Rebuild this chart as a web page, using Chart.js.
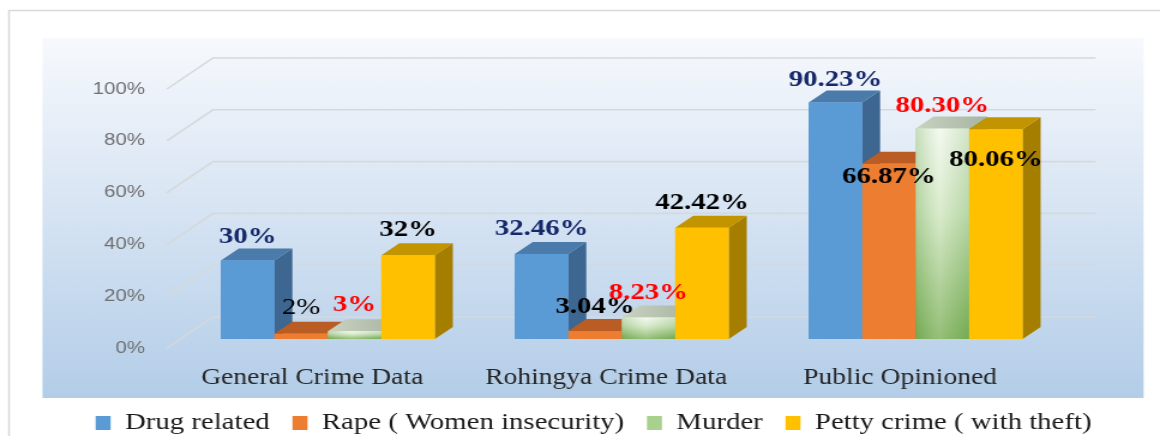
<!DOCTYPE html>
<html>
<head>
<meta charset="utf-8">
<script src="https://cdn.jsdelivr.net/npm/chart.js@4.4.1/dist/chart.umd.min.js"></script>
<style>
html,body{margin:0;padding:0;background:#fff;overflow:hidden;}
#wrap{width:1160px;height:436px;overflow:hidden;position:relative;}
#c{display:block;transform:scaleX(1.19959);transform-origin:0 0;}
</style>
</head>
<body>
<div id="wrap"><canvas id="c" width="967" height="445" style="width:967px;height:445px"></canvas></div>
<script>
// ---------------- data ----------------
const categories = ['General Crime Data', 'Rohingya Crime Data', 'Public Opinioned'];
const seriesNames = ['Drug related', 'Rape ( Women insecurity)', 'Murder', 'Petty crime ( with theft)'];
const drugRelated = [30, 32.46, 90.23];
const rapeWomenInsecurity = [2, 3.04, 66.87];
const murder = [3, 8.23, 80.30];
const pettyCrime = [32, 42.42, 80.06];
const drugLabels = ['30%', '32.46%', '90.23%'];
const rapeLabels = ['2%', '3.04%', '66.87%'];
const murderLabels = ['3%', '8.23%', '80.30%'];
const pettyLabels = ['32%', '42.42%', '80.06%'];
const yTickValues = [0, 20, 40, 60, 80, 100];

const seriesValues = [drugRelated, rapeWomenInsecurity, murder, pettyCrime];
const seriesLabelTexts = [drugLabels, rapeLabels, murderLabels, pettyLabels];

// ---------------- styles ----------------
const CANVAS_H = 445;
const LEG_PAD = 19;
const PAD_LEFT = 22.6;
const AREA_LEFT = 150.8, AREA_RIGHT_GAP = 81.2, AREA_BOTTOM = 348, AREA_TOP = 89;
const DEPTH_X = 15, DEPTH_Y = -12;
const serif = '"Liberation Serif", "Times New Roman", serif';
const faces = [
  { front: '#5B9BD5', top: '#4A7BAA', side: '#3D6690', legend: '#5B9BD5' },
  { front: '#ED7D31', top: '#B95D25', side: '#A4511D', legend: '#ED7D31' },
  { front: null,      top: '#B7C1AE', side: '#79A85A', legend: '#A9D18E' },
  { front: '#FFC000', top: '#C29400', side: '#A57E00', legend: '#FFC000' }
];
const labelColors = ['#16286A', '#000000', '#FF0000', '#000000'];
const labelOffsetY = [[-24, -25, -23], [-26, -24, 13], [-26, -25, -23], [-25, -25, 31]];
const labelWeight = [['bold','bold','bold'], ['normal','bold','bold'], ['bold','bold','bold'], ['bold','bold','bold']];

function greenFront(ctx, x0, x1, yt, yb) {
  const g = ctx.createLinearGradient(0, yt, 0, yb);
  g.addColorStop(0, '#f1f8ec');
  g.addColorStop(0.4, '#cfe6bf');
  g.addColorStop(1, '#78ad53');
  ctx.fillStyle = g;
  ctx.fillRect(x0, yt, x1 - x0, yb - yt);
  const h = ctx.createLinearGradient(x0, 0, x1, 0);
  h.addColorStop(0, 'rgba(100,160,70,0.30)');
  h.addColorStop(0.45, 'rgba(255,255,255,0.22)');
  h.addColorStop(1, 'rgba(100,160,70,0.22)');
  ctx.fillStyle = h;
  ctx.fillRect(x0, yt, x1 - x0, yb - yt);
}

const plot3d = {
  id: 'plot3d',
  beforeDraw(chart) {
    const ctx = chart.ctx;
    ctx.save();
    ctx.fillStyle = '#ffffff';
    ctx.fillRect(0, 0, chart.width, chart.height);
    ctx.strokeStyle = '#d9d9d9';
    ctx.lineWidth = 1.5;
    ctx.strokeRect(7.5, 10.5, chart.width + 20, chart.height + 20);
    const g = ctx.createLinearGradient(0, 38, 0, 398);
    g.addColorStop(0, '#f7f9fd');
    g.addColorStop(1, '#b3cde8');
    ctx.fillStyle = g;
    ctx.fillRect(35.4, 38, 953.3 - 35.4, 360);
    ctx.restore();
  },
  beforeDatasetsDraw(chart) {
    const ctx = chart.ctx, y = chart.scales.y;
    ctx.save();
    ctx.strokeStyle = '#d6d9dc';
    ctx.lineWidth = 1.6;
    yTickValues.forEach(v => {
      const py = y.getPixelForValue(v);
      ctx.beginPath();
      ctx.moveTo(139.2, py);
      ctx.lineTo(177.5, py - 31);
      ctx.lineTo(913.3, py - 31);
      ctx.stroke();
    });
    ctx.restore();
  },
  afterDatasetsDraw(chart) {
    const ctx = chart.ctx;
    ctx.save();
    const metas = seriesValues.map((_, d) => chart.getDatasetMeta(d));
    for (let i = 0; i < categories.length; i++) {
      for (let d = 0; d < seriesValues.length; d++) {
        const el = metas[d].data[i];
        const p = el.getProps(['x', 'y', 'base', 'width'], true);
        const x0 = p.x - p.width / 2, x1 = p.x + p.width / 2, yt = p.y, yb = p.base;
        const f = faces[d];
        // side face
        ctx.fillStyle = f.side;
        ctx.beginPath();
        ctx.moveTo(x1, yt); ctx.lineTo(x1 + DEPTH_X, yt + DEPTH_Y);
        ctx.lineTo(x1 + DEPTH_X, yb + DEPTH_Y); ctx.lineTo(x1, yb);
        ctx.closePath(); ctx.fill();
        // top face
        if (d === 2) {
          const tg = ctx.createLinearGradient(x0, 0, x1 + DEPTH_X, 0);
          tg.addColorStop(0, '#c9d3c0'); tg.addColorStop(1, '#a9b3a2');
          ctx.fillStyle = tg;
        } else ctx.fillStyle = f.top;
        ctx.beginPath();
        ctx.moveTo(x0, yt); ctx.lineTo(x1, yt);
        ctx.lineTo(x1 + DEPTH_X, yt + DEPTH_Y); ctx.lineTo(x0 + DEPTH_X, yt + DEPTH_Y);
        ctx.closePath(); ctx.fill();
        // front face
        if (d === 2) greenFront(ctx, x0, x1, yt, yb);
        else { ctx.fillStyle = f.front; ctx.fillRect(x0, yt, x1 - x0, yb - yt); }
      }
    }
    // value labels
    ctx.textAlign = 'center';
    ctx.textBaseline = 'middle';
    for (let d = 0; d < seriesValues.length; d++) {
      for (let i = 0; i < categories.length; i++) {
        const p = metas[d].data[i].getProps(['x', 'y'], true);
        ctx.font = labelWeight[d][i] + ' 24px ' + serif;
        ctx.fillStyle = labelColors[d];
        ctx.fillText(seriesLabelTexts[d][i], p.x, p.y + labelOffsetY[d][i]);
      }
    }
    ctx.restore();
  }
};

const datasets = seriesNames.map((name, d) => ({
  label: name,
  data: seriesValues[d],
  yAxisID: 'y2',
  backgroundColor: faces[d].legend,
  borderWidth: 0,
  categoryPercentage: 0.728,
  barPercentage: 1
}));

new Chart(document.getElementById('c'), {
  type: 'bar',
  data: { labels: categories, datasets },
  options: {
    responsive: false,
    animation: false,
    layout: { padding: { top: AREA_TOP, left: PAD_LEFT, right: 0, bottom: 0 } },
    plugins: {
      tooltip: { enabled: false },
      legend: {
        position: 'bottom',
        labels: {
          boxWidth: 12.5, boxHeight: 14, padding: LEG_PAD,
          color: '#1a1a1a',
          font: { family: serif, size: 24 }
        }
      }
    },
    scales: {
      x: {
        grid: { display: false, drawTicks: false },
        border: { display: false },
        ticks: {
          color: '#262626', padding: 16, labelOffset: -13, maxRotation: 0,
          font: { family: serif, size: 23 }
        },
        afterFit(s) { s.height = CANVAS_H - AREA_BOTTOM - (34 + LEG_PAD); }
      },
      y: {
        position: 'left',
        min: 0, max: 100,
        afterBuildTicks(s) { s.ticks = yTickValues.map(v => ({ value: v })); },
        grid: { display: false, drawTicks: false },
        border: { display: false },
        ticks: {
          color: '#707070', padding: 30,
          font: { family: '"Liberation Sans", Arial, sans-serif', size: 17 },
          callback: v => v + '%'
        },
        afterFit(s) { s.width = AREA_LEFT - PAD_LEFT; }
      },
      y2: {
        position: 'right',
        display: true,
        min: -3.44, max: 95.42,
        grid: { display: false, drawTicks: false },
        border: { display: false },
        ticks: { display: false },
        afterFit(s) { s.width = AREA_RIGHT_GAP; }
      }
    }
  },
  plugins: [plot3d]
});
</script>
</body>
</html>
